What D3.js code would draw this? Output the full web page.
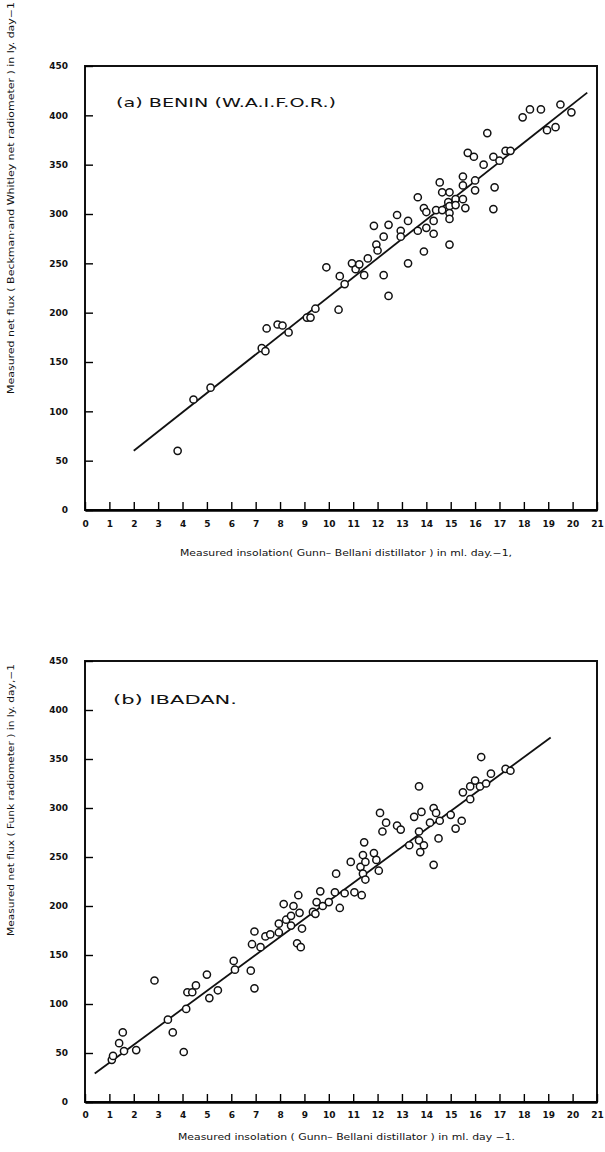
<!DOCTYPE html>
<html>
<head>
<meta charset="utf-8">
<script src="https://cdn.jsdelivr.net/npm/d3@7"></script>
<style>
  body { margin: 0; background: #fff; }
  svg { display: block; }
  text { font-family: 'DejaVu Sans', sans-serif; fill: #111; }
  .tick text { font-size: 9px; }
</style>
</head>
<body>
<svg id="chart" width="605" height="1152"></svg>
<script>
// (a) Benin, W.A.I.F.O.R.
const beninX = [3.8, 4.45, 5.15, 7.25, 7.4, 7.45, 7.9, 8.1, 8.35, 9.1, 9.25, 9.45, 9.9, 10.4, 10.45,
  10.65, 10.95, 11.1, 11.25, 11.45, 11.6, 11.85, 11.95, 12.0, 12.25, 12.25, 12.45, 12.45, 12.8, 12.95,
  12.95, 13.25, 13.25, 13.65, 13.65, 13.9, 14.0, 14.0, 13.9, 14.3, 14.3, 14.4, 14.65, 14.55, 14.65,
  14.95, 14.9, 14.95, 14.95, 14.95, 14.95, 15.2, 15.2, 15.5, 15.5, 15.5, 15.6, 16.0, 16.0, 15.7,
  15.95, 16.35, 16.5, 16.75, 16.8, 16.75, 17.0, 17.25, 17.45, 17.95, 18.25, 18.7, 18.95, 19.3, 19.5, 19.95]
const beninY = [60, 112, 124, 164, 161, 184, 188, 187, 180, 195, 195, 204, 246, 203, 237,
  229, 250, 244, 249, 238, 255, 288, 269, 263, 277, 238, 289, 217, 299, 283,
  277, 293, 250, 283, 317, 306, 302, 286, 262, 293, 280, 304, 304, 332, 322,
  322, 312, 308, 301, 295, 269, 315, 309, 338, 329, 315, 306, 334, 324, 362,
  358, 350, 382, 358, 327, 305, 354, 364, 364, 398, 406, 406, 385, 388, 411, 403]
const beninFitX = [2, 20.6]
const beninFitY = [60, 423]

// (b) Ibadan
const ibadanX = [1.1, 1.15, 1.4, 1.55, 1.6, 2.1, 2.85, 3.4, 3.6, 4.05, 4.15, 4.2, 4.4, 4.55, 5.0,
  5.1, 5.45, 6.1, 6.15, 6.8, 6.85, 6.95, 6.95, 7.2, 7.4, 7.6, 7.95, 7.95, 8.15, 8.25,
  8.45, 8.55, 8.45, 8.75, 8.8, 8.7, 8.85, 8.9, 9.35, 9.45, 9.5, 9.65, 9.75, 10.0, 10.3,
  10.25, 10.45, 10.65, 10.9, 11.05, 11.35, 11.3, 11.4, 11.5, 11.4, 11.5, 11.45, 11.85, 11.95, 12.05,
  12.2, 12.1, 12.35, 12.8, 12.95, 13.3, 13.5, 13.8, 13.7, 13.7, 13.7, 13.9, 13.75, 14.15, 14.3,
  14.4, 14.55, 14.3, 14.5, 15.0, 15.2, 15.45, 15.5, 15.8, 15.8, 16.0, 16.2, 16.45, 16.25, 16.65,
  17.25, 17.45]
const ibadanY = [43, 47, 60, 71, 52, 53, 124, 84, 71, 51, 95, 112, 112, 119, 130,
  106, 114, 144, 135, 134, 161, 174, 116, 158, 169, 171, 173, 182, 202, 186,
  190, 200, 180, 211, 193, 162, 158, 177, 194, 192, 204, 215, 200, 204, 233,
  214, 198, 213, 245, 214, 211, 240, 252, 245, 233, 227, 265, 254, 247, 236,
  276, 295, 285, 282, 278, 262, 291, 296, 322, 276, 267, 262, 255, 285, 300,
  295, 287, 242, 269, 293, 279, 287, 316, 322, 309, 328, 322, 325, 352, 335,
  340, 338]
const ibadanFitX = [0.4, 19.1]
const ibadanFitY = [29, 372]

const xTicks = d3.range(0, 22)
const yTicks = d3.range(0, 451, 50)

const svg = d3.select('#chart')

const drawPanel = p => {
  const x = d3.scaleLinear().domain([0, 21]).range([85, 597])
  const y = d3.scaleLinear().domain([0, 450]).range([p.bottom, p.top])
  const g = svg.append('g')

  g.append('rect')
    .attr('x', x(0)).attr('y', y(450))
    .attr('width', x(21) - x(0)).attr('height', y(0) - y(450))
    .attr('fill', 'none').attr('stroke', '#111').attr('stroke-width', 2)

  const xAxis = g.append('g')
    .attr('transform', `translate(0,${y(0)})`)
    .call(d3.axisBottom(x).tickValues(xTicks).tickSizeInner(-8).tickSizeOuter(0).tickPadding(p.xPad))
  xAxis.select('.domain').attr('stroke-width', 2.5)
  xAxis.selectAll('.tick line').attr('stroke-width', 1.4)

  const yAxis = g.append('g')
    .attr('transform', `translate(${x(0)},0)`)
    .call(d3.axisLeft(y).tickValues(yTicks).tickSizeInner(-8).tickSizeOuter(0).tickPadding(17))
  yAxis.select('.domain').remove()
  yAxis.selectAll('.tick line').attr('stroke-width', 1.4)

  g.selectAll('.tick text').attr('fill', '#111').style('font-weight', 'bold')

  g.append('path')
    .datum(d3.zip(p.fitX, p.fitY))
    .attr('d', d3.line().x(d => x(d[0])).y(d => y(d[1])))
    .attr('fill', 'none').attr('stroke', '#111').attr('stroke-width', 1.8)

  g.selectAll('circle.pt')
    .data(d3.zip(p.xs, p.ys))
    .enter().append('circle')
    .attr('class', 'pt')
    .attr('cx', d => x(d[0]))
    .attr('cy', d => y(d[1]))
    .attr('r', 3.6)
    .attr('fill', '#fff').attr('stroke', '#111').attr('stroke-width', 1.5)

  g.append('text')
    .attr('x', p.titleX).attr('y', p.titleY)
    .attr('textLength', p.titleLen).attr('lengthAdjust', 'spacingAndGlyphs')
    .style('font-size', '13px')
    .text(p.title)

  g.append('text')
    .attr('x', p.xLabelX).attr('y', p.xLabelY)
    .attr('textLength', p.xLabelLen).attr('lengthAdjust', 'spacingAndGlyphs')
    .style('font-size', '8.5px')
    .text(p.xLabel)

  g.append('text')
    .attr('transform', `translate(14,${p.yLabelMid}) rotate(-90)`)
    .attr('text-anchor', 'middle')
    .attr('textLength', p.yLabelLen).attr('lengthAdjust', 'spacingAndGlyphs')
    .style('font-size', '8.5px')
    .text(p.yLabel)
}

drawPanel({
  top: 66, bottom: 510, xPad: 11,
  xs: beninX, ys: beninY, fitX: beninFitX, fitY: beninFitY,
  title: '(a) BENIN (W.A.I.F.O.R.)', titleX: 116, titleY: 107, titleLen: 220,
  xLabel: 'Measured insolation( Gunn\u2013 Bellani distillator ) in ml. day.\u22121,',
  xLabelX: 180, xLabelY: 556, xLabelLen: 332,
  yLabel: 'Measured net flux ( Beckman\u00b7and Whitley net radiometer ) in ly. day\u22121',
  yLabelMid: 198, yLabelLen: 392
})

drawPanel({
  top: 661, bottom: 1102, xPad: 10,
  xs: ibadanX, ys: ibadanY, fitX: ibadanFitX, fitY: ibadanFitY,
  title: '(b) IBADAN.', titleX: 113, titleY: 704, titleLen: 124,
  xLabel: 'Measured insolation ( Gunn\u2013 Bellani distillator ) in ml. day \u22121.',
  xLabelX: 178, xLabelY: 1140, xLabelLen: 337,
  yLabel: 'Measured net flux ( Funk radiometer ) in ly. day,\u22121',
  yLabelMid: 800, yLabelLen: 272
})
</script>
</body>
</html>
